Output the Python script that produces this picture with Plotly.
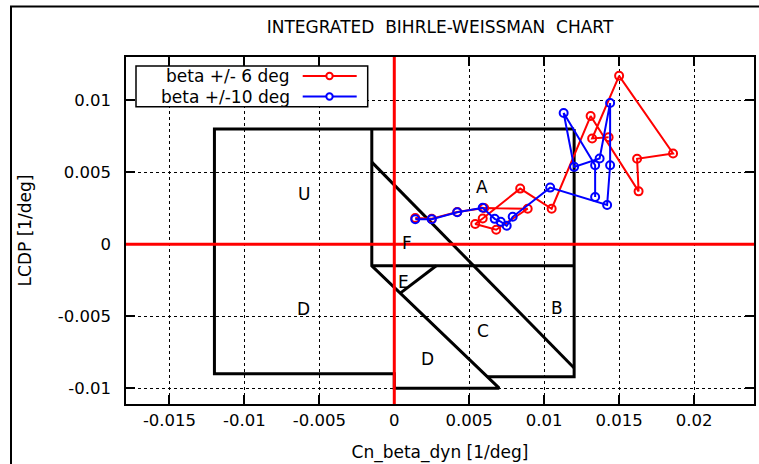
import plotly.graph_objects as go

# ---------------- data ----------------
red_name = "beta +/- 6 deg"
red_x = [0.0014, 0.0025, 0.0042, 0.0060, 0.0089, 0.0068, 0.0054, 0.0059, 0.0084,
         0.0105, 0.0131, 0.0163, 0.0162, 0.0186, 0.0150, 0.0132, 0.0143]
red_y = [0.00181, 0.00176, 0.00223, 0.00251, 0.00246, 0.0010, 0.0014, 0.00178, 0.00386,
         0.00246, 0.0089, 0.00367, 0.00593, 0.0063, 0.01169, 0.00734, 0.00743]

blue_name = "beta +/-10 deg"
blue_x = [0.0014, 0.0025, 0.0042, 0.0059, 0.0067, 0.0071, 0.0075, 0.0079, 0.0104,
          0.0142, 0.0144, 0.0144, 0.0137, 0.0120, 0.0113, 0.0134, 0.0134]
blue_y = [0.00173, 0.00174, 0.00222, 0.00253, 0.00176, 0.00156, 0.00128, 0.0019, 0.00393,
          0.00272, 0.00548, 0.0098, 0.00595, 0.00537, 0.00911, 0.00548, 0.00328]

# Bihrle-Weissman chart region boundaries (None separates polylines)
region_x = [0.012, -0.012, -0.012, 0.0, 0.0, 0.007, -0.0015, -0.0015, None,
            -0.0015, 0.012, None,
            0.012, 0.012, 0.0062, None,
            -0.0015, 0.012, None,
            0.0028, 0.0004]
region_y = [0.008, 0.008, -0.009, -0.009, -0.010, -0.010, -0.0015, 0.008, None,
            -0.0015, -0.0015, None,
            0.008, -0.0092, -0.0092, None,
            0.0057, -0.0086, None,
            -0.0015, -0.0034]

label_text = ["A", "B", "C", "D", "E", "F", "U", "D"]
label_x = [0.00585, 0.01085, 0.0059, 0.0022, 0.0006, 0.00085, -0.00605, -0.00605]
label_y = [0.00395, -0.0044, -0.0060, -0.0080, -0.0026, 0.0001, 0.0035, -0.0045]

x_ticks = [-0.015, -0.01, -0.005, 0, 0.005, 0.01, 0.015, 0.02]
x_tick_text = ["-0.015", "-0.01", "-0.005", "0", "0.005", "0.01", "0.015", "0.02"]
y_ticks = [-0.01, -0.005, 0, 0.005, 0.01]
y_tick_text = ["-0.01", "-0.005", "0", "0.005", "0.01"]

x_range = [-0.0179, 0.024]
y_range = [-0.0111, 0.013]

title_text = "INTEGRATED\u00a0\u00a0BIHRLE-WEISSMAN\u00a0\u00a0CHART"
x_title = "Cn_beta_dyn [1/deg]"
y_title = "LCDP [1/deg]"

FONT = "DejaVu Sans"
W, H = 759, 464
ML, MR, MT, MB = 126, 5, 57, 60
PW, PH = W - ML - MR, H - MT - MB

def px_to_paper(px, py):
    return (px - ML) / PW, (H - MB - py) / PH

# ---------------- figure ----------------
fig = go.Figure()

fig.add_trace(go.Scatter(x=region_x, y=region_y, mode="lines",
                         line=dict(color="black", width=3),
                         hoverinfo="skip", showlegend=False, name="regions"))

fig.add_trace(go.Scatter(x=red_x, y=red_y, mode="lines+markers", name=red_name,
                         line=dict(color="#ff0000", width=2),
                         marker=dict(symbol="circle-open", size=8,
                                     line=dict(color="#ff0000", width=2)),
                         showlegend=False))
fig.add_trace(go.Scatter(x=blue_x, y=blue_y, mode="lines+markers", name=blue_name,
                         line=dict(color="#0000ff", width=2),
                         marker=dict(symbol="circle-open", size=8,
                                     line=dict(color="#0000ff", width=2)),
                         showlegend=False))

shapes = []
# red zero axes
shapes.append(dict(type="line", xref="x", yref="paper", x0=0, x1=0, y0=0, y1=1,
                   line=dict(color="#ff0000", width=3), layer="above"))
shapes.append(dict(type="line", xref="paper", yref="y", x0=0, x1=1, y0=0, y1=0,
                   line=dict(color="#ff0000", width=3), layer="above"))

# outer frame of the whole picture
fx0, fy0 = px_to_paper(11, 6.5)
fx1, fy1 = px_to_paper(W + 5, H + 5)
shapes.append(dict(type="rect", xref="paper", yref="paper", x0=fx0, x1=fx1, y0=fy1, y1=fy0,
                   line=dict(color="black", width=2), layer="above"))

# custom gnuplot-style legend (text left, sample right)
lx0, ly0 = px_to_paper(136, 106.7)
lx1, ly1 = px_to_paper(367.7, 66)
shapes.append(dict(type="rect", xref="paper", yref="paper", x0=lx0, x1=lx1, y0=ly0, y1=ly1,
                   line=dict(color="black", width=1.5), fillcolor="white", layer="above"))

annotations = []
legend_rows = [(red_name, "#ff0000", 76), (blue_name, "#0000ff", 96.5)]
for name, col, rowy in legend_rows:
    tx, ty = px_to_paper(292, rowy)
    annotations.append(dict(text=name, xref="paper", yref="paper", x=tx, y=ty,
                            xanchor="right", yanchor="middle", showarrow=False,
                            font=dict(family=FONT, size=17, color="black")))
    sx0, sy = px_to_paper(302.7, rowy)
    sx1, _ = px_to_paper(356.7, rowy)
    shapes.append(dict(type="line", xref="paper", yref="paper", x0=sx0, x1=sx1, y0=sy, y1=sy,
                       line=dict(color=col, width=2), layer="above"))
    cx, cy = px_to_paper(329.5, rowy)
    rx, ry = 3.2 / PW, 3.2 / PH
    shapes.append(dict(type="circle", xref="paper", yref="paper",
                       x0=cx - rx, x1=cx + rx, y0=cy - ry, y1=cy + ry,
                       line=dict(color=col, width=2), fillcolor="white", layer="above"))

for t, x, y in zip(label_text, label_x, label_y):
    annotations.append(dict(text=t, x=x, y=y, xref="x", yref="y", showarrow=False,
                            xanchor="center", yanchor="middle",
                            font=dict(family=FONT, size=17, color="black")))

axis_common = dict(showline=True, linecolor="black", linewidth=1.5, mirror="ticks",
                   ticks="inside", ticklen=9, tickwidth=1.5, tickcolor="black",
                   showgrid=True, gridcolor="black", gridwidth=1, griddash="dot",
                   zeroline=False, tickfont=dict(family=FONT, size=16.5, color="black"))

fig.update_layout(
    width=W, height=H,
    margin=dict(l=ML, r=MR, t=MT, b=MB, autoexpand=False),
    paper_bgcolor="white", plot_bgcolor="white",
    title=dict(text=title_text, x=(ML + PW / 2) / W, xanchor="center",
               y=1 - 27 / H, yanchor="middle", yref="container",
               font=dict(family=FONT, size=17, color="black")),
    xaxis=dict(range=x_range, tickvals=x_ticks, ticktext=x_tick_text,
               title=dict(text=x_title, standoff=18,
                          font=dict(family=FONT, size=17, color="black")),
               **axis_common),
    yaxis=dict(range=y_range, tickvals=y_ticks, ticktext=y_tick_text,
               ticklabelstandoff=10,
               title=dict(text=y_title, standoff=22,
                          font=dict(family=FONT, size=17, color="black")),
               **axis_common),
    shapes=shapes, annotations=annotations, showlegend=False,
)

fig.write_html("out.html",
               config={"displayModeBar": False},
               post_script="document.body.style.margin='0';document.body.style.overflow='hidden';")
